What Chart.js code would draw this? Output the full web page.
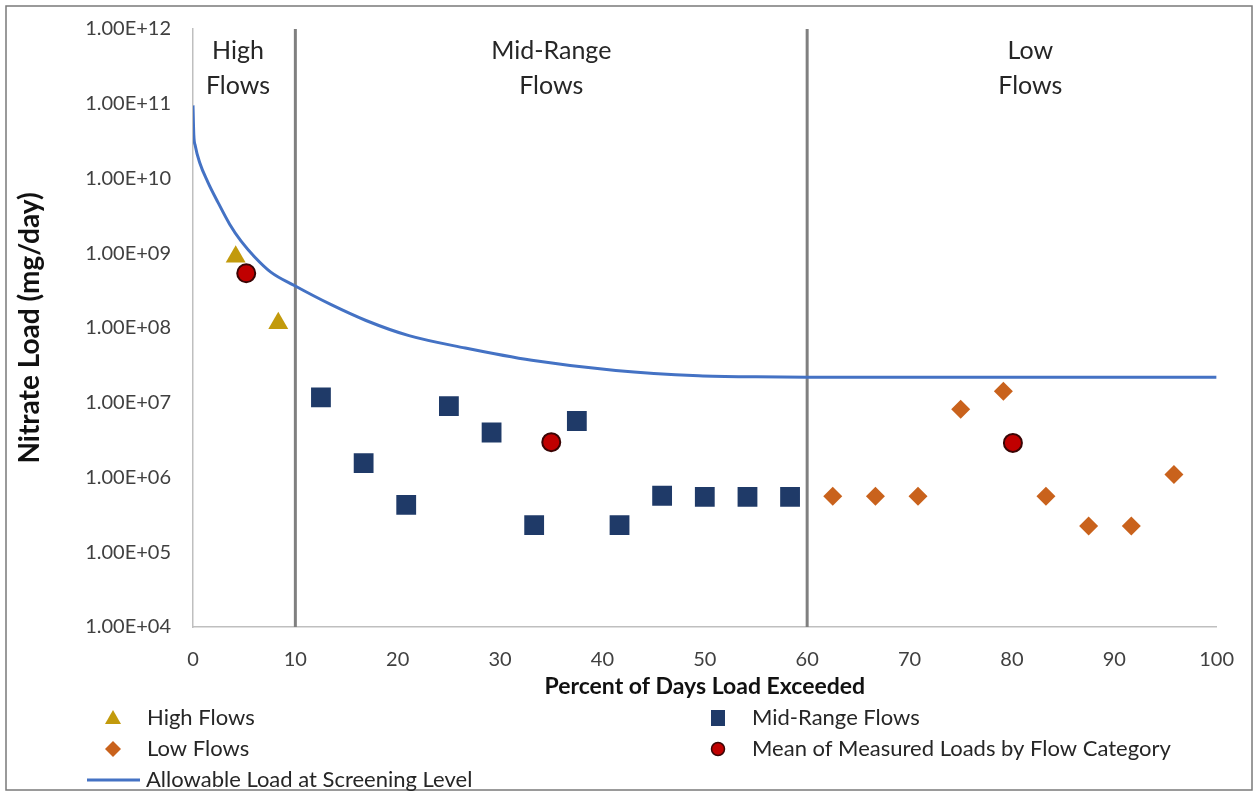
<!DOCTYPE html>
<html>
<head>
<meta charset="utf-8">
<script src="https://cdn.jsdelivr.net/npm/chart.js@4.4.1/dist/chart.umd.min.js"></script>
<style>
  body { margin: 0; background: #fff; }
  #wrap { width: 1255px; height: 797px; }
</style>
</head>
<body>
<div id="wrap"><canvas id="grafico" width="1255" height="797"></canvas></div>
<script>
// dados
const highX = [4.17, 8.33];
const highY = [9.0e8, 1.16e8];

const midX = [12.5, 16.67, 20.83, 25, 29.17, 33.33, 37.5, 41.67, 45.83, 50, 54.17, 58.33];
const midY = [1.18e7, 1.56e6, 4.3e5, 9.0e6, 4.0e6, 2.3e5, 5.7e6, 2.3e5, 5.7e5, 5.5e5, 5.5e5, 5.5e5];

const lowX = [62.5, 66.67, 70.83, 75, 79.17, 83.33, 87.5, 91.67, 95.83];
const lowY = [5.6e5, 5.6e5, 5.6e5, 8.2e6, 1.43e7, 5.6e5, 2.25e5, 2.25e5, 1.1e6];

const meanX = [5.2, 35, 80.1];
const meanY = [5.4e8, 2.97e6, 2.9e6];

// curva de carga permitida
const allowX = [0, 0.08, 0.22, 0.65, 1.46, 2.44, 3.58, 4.7, 6.0, 7.6, 9.9, 13.5, 16.9, 21.1, 26.6, 33.1, 41.3, 49.4, 55, 60, 70, 80, 90, 100];
const allowY = [9.5e10, 3.8e10, 2.75e10, 1.64e10, 8.9e9, 4.8e9, 2.45e9, 1.45e9, 9.0e8, 5.6e8, 3.7e8, 2.05e8, 1.26e8, 7.9e7, 5.4e7, 3.7e7, 2.7e7, 2.3e7, 2.22e7, 2.2e7, 2.2e7, 2.2e7, 2.2e7, 2.2e7];

const divisorias = [10, 60];
const regioes = [
  { x: 4.4, linhas: ["High", "Flows"] },
  { x: 35, linhas: ["Mid-Range", "Flows"] },
  { x: 81.8, linhas: ["Low", "Flows"] }
];

const xTicks = [0, 10, 20, 30, 40, 50, 60, 70, 80, 90, 100];
const yTicks = [1e4, 1e5, 1e6, 1e7, 1e8, 1e9, 1e10, 1e11, 1e12];

function pares(xs, ys) {
  return xs.map((x, i) => ({ x, y: ys[i] }));
}

function fmtExp(v) {
  const e = Math.round(Math.log10(v));
  return "1.00E+" + String(e).padStart(2, "0");
}

const fonte = "Lato, 'Open Sans', sans-serif";

const divDatasets = divisorias.map(d => ({
  type: "line",
  label: "_div" + d,
  data: [{ x: d, y: 1e4 }, { x: d, y: 1e12 }],
  borderColor: "#808080",
  borderWidth: 3,
  pointRadius: 0,
  clip: false
}));

// rotulos das regioes
const rotulosRegioes = {
  id: "rotulosRegioes",
  afterDatasetsDraw(chart) {
    const ctx = chart.ctx;
    const xs = chart.scales.x;
    ctx.save();
    ctx.font = "25px " + fonte;
    ctx.fillStyle = "#262626";
    ctx.textAlign = "center";
    ctx.textBaseline = "middle";
    regioes.forEach(r => {
      const px = xs.getPixelForValue(r.x);
      r.linhas.forEach((t, i) => ctx.fillText(t, px, 51 + i * 35));
    });
    ctx.restore();
  }
};

// moldura externa
const moldura = {
  id: "moldura",
  beforeDraw(chart) {
    const ctx = chart.ctx;
    ctx.save();
    ctx.fillStyle = "#fff";
    ctx.fillRect(0, 0, chart.width, chart.height);
    ctx.strokeStyle = "#7a7a7a";
    ctx.lineWidth = 1.5;
    ctx.strokeRect(6, 6, 1246, 784);
    ctx.restore();
  }
};

// legenda em duas colunas, como no original
const legendaItens = [
  { ds: 1, x: 113, y: 718 },
  { ds: 2, x: 718, y: 718 },
  { ds: 3, x: 113, y: 749 },
  { ds: 0, x: 718, y: 749 },
  { ds: 4, x: 113, y: 780 }
];

function marcador(ctx, ds, x, y) {
  ctx.fillStyle = ds.backgroundColor;
  ctx.strokeStyle = ds.borderColor;
  ctx.beginPath();
  if (ds.pointStyle === "triangle") {
    ctx.moveTo(x, y - 8);
    ctx.lineTo(x + 8, y + 6);
    ctx.lineTo(x - 8, y + 6);
    ctx.closePath();
    ctx.fill();
  } else if (ds.pointStyle === "rect") {
    ctx.rect(x - 7, y - 8, 14, 16);
    ctx.fill();
  } else if (ds.pointStyle === "rectRot") {
    ctx.moveTo(x - 8, y);
    ctx.lineTo(x, y - 8);
    ctx.lineTo(x + 8, y);
    ctx.lineTo(x, y + 8);
    ctx.closePath();
    ctx.fill();
  } else if (ds.pointStyle === "circle") {
    ctx.arc(x, y, 6.5, 0, Math.PI * 2);
    ctx.fill();
    ctx.lineWidth = 1.5;
    ctx.stroke();
  }
}

const legenda = {
  id: "legenda",
  afterDraw(chart) {
    const ctx = chart.ctx;
    ctx.save();
    ctx.font = "22px " + fonte;
    ctx.textBaseline = "middle";
    ctx.textAlign = "left";
    legendaItens.forEach(it => {
      const ds = chart.data.datasets[it.ds];
      if (ds.type === "line") {
        ctx.strokeStyle = ds.borderColor;
        ctx.lineWidth = 3;
        ctx.beginPath();
        ctx.moveTo(it.x - 26, it.y);
        ctx.lineTo(it.x + 27, it.y);
        ctx.stroke();
        ctx.fillStyle = "#262626";
        ctx.fillText(ds.label, it.x + 33, it.y);
      } else {
        marcador(ctx, ds, it.x, it.y);
        ctx.fillStyle = "#262626";
        ctx.fillText(ds.label, it.x + 34, it.y);
      }
    });
    ctx.restore();
  }
};

const ctx = document.getElementById("grafico");

const myChart = new Chart(ctx, {
  type: "scatter",
  data: {
    datasets: [
      {
        label: "Mean of Measured Loads by Flow Category",
        data: pares(meanX, meanY),
        pointStyle: "circle",
        pointRadius: 9,
        backgroundColor: "#C00000",
        borderColor: "#3a0505",
        borderWidth: 2
      },
      {
        label: "High Flows",
        data: pares(highX, highY),
        pointStyle: "triangle",
        pointRadius: 11.5,
        backgroundColor: "#C29A0C",
        borderColor: "#C29A0C",
        borderWidth: 0
      },
      {
        label: "Mid-Range Flows",
        data: pares(midX, midY),
        pointStyle: "rect",
        pointRadius: 14,
        backgroundColor: "#1F3A68",
        borderColor: "#1F3A68",
        borderWidth: 0
      },
      {
        label: "Low Flows",
        data: pares(lowX, lowY),
        pointStyle: "rectRot",
        pointRadius: 9.5,
        backgroundColor: "#C9621C",
        borderColor: "#C9621C",
        borderWidth: 0
      },
      {
        type: "line",
        label: "Allowable Load at Screening Level",
        data: pares(allowX, allowY),
        borderColor: "#4472C4",
        borderWidth: 3,
        pointRadius: 0,
        cubicInterpolationMode: "monotone",
        fill: false
      },
      ...divDatasets
    ]
  },
  options: {
    responsive: false,
    animation: false,
    events: [],
    layout: {
      padding: { left: 0, right: 34, top: 29, bottom: 97 }
    },
    plugins: {
      legend: { display: false },
      tooltip: { enabled: false }
    },
    scales: {
      x: {
        type: "linear",
        min: 0,
        max: 100,
        afterBuildTicks: s => { s.ticks = xTicks.map(v => ({ value: v })); },
        afterFit: s => { s.height = 73; },
        grid: { display: false, drawTicks: false },
        border: { display: true, color: "#BFBFBF", width: 1.5 },
        ticks: {
          padding: 21,
          color: "#404040",
          font: { family: fonte, size: 20 }
        },
        title: {
          display: true,
          text: "Percent of Days Load Exceeded",
          color: "#111",
          font: { family: fonte, size: 23, weight: "bold" },
          padding: { top: 0, bottom: 0 }
        }
      },
      y: {
        type: "logarithmic",
        min: 1e4,
        max: 1e12,
        afterBuildTicks: s => { s.ticks = yTicks.map(v => ({ value: v, major: true })); },
        afterFit: s => {
          s.width = 193;
          s.paddingTop = 12;
          s.paddingBottom = 12;
        },
        grid: { display: false, drawTicks: false },
        border: { display: true, color: "#BFBFBF", width: 1.5 },
        ticks: {
          padding: 22,
          color: "#404040",
          font: { family: fonte, size: 20 },
          callback: v => fmtExp(v)
        },
        title: {
          display: true,
          text: "Nitrate Load (mg/day)",
          color: "#111",
          font: { family: fonte, size: 28, weight: "bold" },
          padding: { top: 13, bottom: 0 }
        }
      }
    }
  },
  plugins: [moldura, rotulosRegioes, legenda]
});
</script>
</body>
</html>
